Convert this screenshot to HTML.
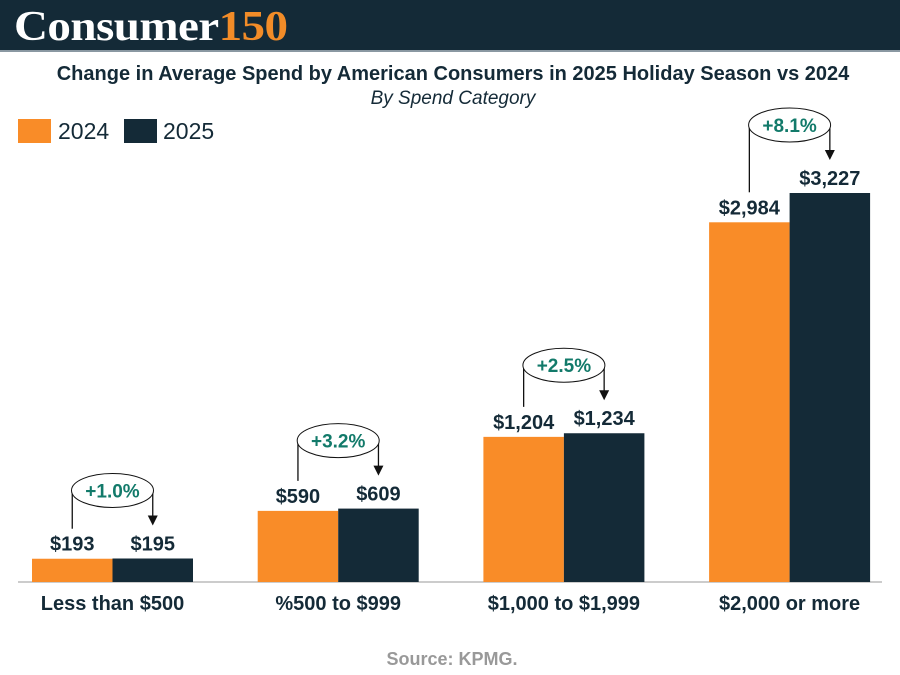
<!DOCTYPE html>
<html><head><meta charset="utf-8"><style>
body{margin:0;width:900px;height:675px;background:#fff;overflow:hidden;font-family:"Liberation Sans",sans-serif}
</style></head><body>
<div style="position:absolute;left:0;top:0;width:900px;height:50px;background:#142a37;border-bottom:2px solid #8a98a2">
<span style="position:absolute;left:14px;top:3px;font-family:'Liberation Serif',serif;font-weight:bold;font-size:42px;color:#fff;letter-spacing:-0.5px;transform-origin:0 0;transform:scaleX(1.12);white-space:nowrap">Consumer<span style="color:#f28c28">150</span></span>
</div>
<svg width="900" height="675" style="position:absolute;left:0;top:0">
<text x="453" y="80" text-anchor="middle" font-size="20" font-weight="bold" fill="#142a37">Change in Average Spend by American Consumers in 2025 Holiday Season vs 2024</text>
<text x="453" y="104" text-anchor="middle" font-size="19" font-style="italic" fill="#142a37">By Spend Category</text>
<rect x="18" y="119" width="33" height="24" fill="#f98c28"/>
<text x="58" y="139" font-size="23" fill="#142a37">2024</text>
<rect x="124" y="119" width="33" height="24" fill="#142a37"/>
<text x="163" y="139" font-size="23" fill="#142a37">2025</text>
<line x1="18" y1="582" x2="882" y2="582" stroke="#999" stroke-width="1"/>
<g id="g"></g>
<text x="452" y="665" text-anchor="middle" font-size="18" font-weight="bold" fill="#999">Source: KPMG.</text>
</svg>
<script>
const categories=["Less than $500","%500 to $999","$1,000 to $1,999","$2,000 or more"];
const values2024=[193,590,1204,2984];
const values2025=[195,609,1234,3227];
const changes=["+1.0%","+3.2%","+2.5%","+8.1%"];
const g=document.getElementById('g');
const NS="http://www.w3.org/2000/svg";
const base=582,k=389/3227;
const y=v=>base-v*k;
const fmt=v=>"$"+v.toLocaleString("en-US");
function el(t,a,txt){const e=document.createElementNS(NS,t);for(const n in a)e.setAttribute(n,a[n]);if(txt)e.textContent=txt;g.appendChild(e);return e;}
categories.forEach((c,i)=>{
 const x0=32+i*225.7,w=80.5;
 const t1=y(values2024[i]),t2=y(values2025[i]);
 let e=el('rect',{x:x0,y:t1,width:w,height:base-t1,fill:'#f98c28'});
 
 
 e=el('rect',{x:x0+w,y:t2,width:w,height:base-t2,fill:'#142a37'});
 
 
 e=el('text',{x:x0+w/2,y:t1-8,'text-anchor':'middle','font-size':20,'font-weight':'bold',fill:'#142a37'},fmt(values2024[i]));
 
 
 e=el('text',{x:x0+w*1.5,y:t2-8,'text-anchor':'middle','font-size':20,'font-weight':'bold',fill:'#142a37'},fmt(values2025[i]));
 
 
 const cy=t2-68,cx=x0+w,ax=x0+w*1.5,tip=t2-33;
 e=el('line',{x1:x0+w/2,y1:t1-30,x2:x0+w/2,y2:cy,stroke:'#111','stroke-width':1.3});
 
 
 e=el('line',{x1:ax,y1:cy,x2:ax,y2:tip-8,stroke:'#111','stroke-width':1.3});
 
 
 e=el('path',{d:`M${ax-5},${tip-10} L${ax+5},${tip-10} L${ax},${tip} Z`,fill:'#111'});
 
 
 e=el('ellipse',{cx:cx,cy:cy,rx:41,ry:17,fill:'#fff',stroke:'#111','stroke-width':1});
 
 
 e=el('text',{x:cx,y:cy+7,'text-anchor':'middle','font-size':19,'font-weight':'bold',fill:'#127a6a'},changes[i]);
 
 
 e=el('text',{x:cx,y:610,'text-anchor':'middle','font-size':20,'font-weight':'bold',fill:'#142a37'},c);
 
 
});
</script>
</body></html>
